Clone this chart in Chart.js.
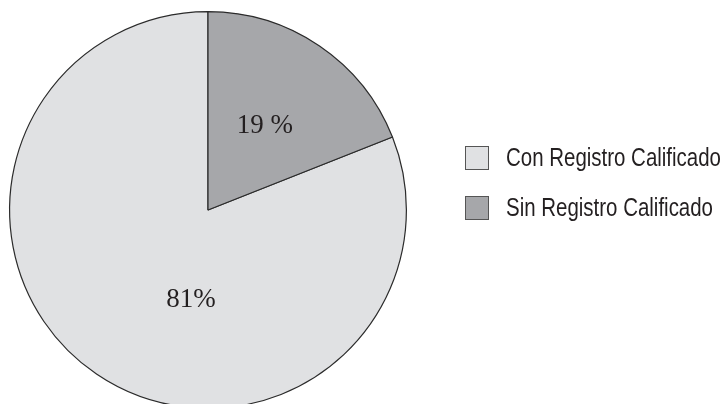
<!DOCTYPE html>
<html>
<head>
<meta charset="utf-8">
<script src="https://cdn.jsdelivr.net/npm/chart.js@4.4.1/dist/chart.umd.min.js"></script>
<style>
  html, body { margin: 0; padding: 0; background: #fff; overflow: hidden; }
  #wrap { position: absolute; left: 0; top: 0; width: 725px; height: 420px; }
</style>
</head>
<body>
<div id="wrap"><canvas id="chart"></canvas></div>
<script>
const categorias = ["Con Registro Calificado", "Sin Registro Calificado"];
const valores = [81, 19];
const etiquetas = ["81%", "19 %"];
const colores = ["#e0e1e3", "#a6a7aa"];

// la porcion "Sin Registro" arranca arriba y gira en sentido horario
const giro = valores[1] / (valores[0] + valores[1]) * 360;

const textoPorciones = {
    id: "textoPorciones",
    afterDatasetsDraw(chart) {
        const ctx = chart.ctx;
        const arcs = chart.getDatasetMeta(0).data;
        const radios = [0.46, 0.51];
        const desvio = [-23.5, 0];
        ctx.save();
        ctx.font = "27px 'Liberation Serif', 'DejaVu Serif', serif";
        ctx.fillStyle = "#231f20";
        ctx.textAlign = "center";
        ctx.textBaseline = "middle";
        arcs.forEach(function(arc, i) {
            const p = arc.getProps(["x", "y", "startAngle", "endAngle", "outerRadius"], true);
            const a = (p.startAngle + p.endAngle) / 2 + desvio[i] * Math.PI / 180;
            const r = p.outerRadius * radios[i];
            ctx.fillText(etiquetas[i], p.x + Math.cos(a) * r, p.y + Math.sin(a) * r);
        });
        ctx.restore();
    }
};

// la leyenda original usa una helvetica condensada: se comprime en x
const leyenda = {
    id: "leyenda",
    afterDraw(chart) {
        const ctx = chart.ctx;
        ctx.save();
        ctx.font = "26px 'Liberation Sans', Arial, sans-serif";
        ctx.textBaseline = "middle";
        const escala = 207 / ctx.measureText(categorias[1]).width;
        categorias.forEach(function(nombre, i) {
            const y = 158 + i * 50;
            ctx.fillStyle = colores[i];
            ctx.fillRect(465, y - 12, 24, 24);
            ctx.strokeStyle = "#555";
            ctx.lineWidth = 1;
            ctx.strokeRect(465.5, y - 11.5, 23, 23);
            ctx.fillStyle = "#231f20";
            ctx.save();
            ctx.translate(506, y + 1);
            ctx.scale(escala, 1);
            ctx.fillText(nombre, 0, 0);
            ctx.restore();
        });
        ctx.restore();
    }
};

new Chart(
    document.querySelector("canvas#chart"),
    {
        type: "pie",
        data: {
            labels: categorias,
            datasets: [
                {
                    data: valores,
                    backgroundColor: colores,
                    borderColor: "#2b2b2b",
                    borderWidth: 1.2,
                    hoverOffset: 0
                }
            ]
        },
        options: {
            responsive: true,
            maintainAspectRatio: false,
            animation: false,
            rotation: giro,
            layout: { padding: { left: 9, top: 11, bottom: 11, right: 318 } },
            plugins: {
                legend: { display: false },
                tooltip: { enabled: false }
            }
        },
        plugins: [textoPorciones, leyenda]
    }
);
</script>
</body>
</html>
